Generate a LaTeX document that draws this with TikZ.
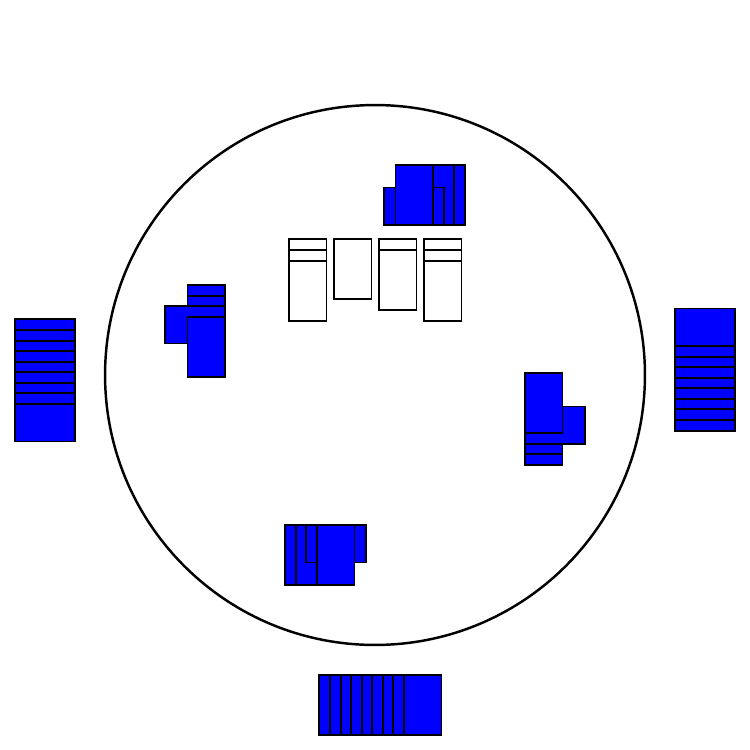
\documentclass[tikz,border=0pt]{standalone}
\usepackage{tikz}
\newcommand{\drawtable}{\node[draw,circle,minimum size=10.8cm,inner sep=0,line width=1.4pt]}
\newcommand{\drawcard}{\node[draw,rectangle,fill=blue,minimum width=0.75cm,minimum height=1.2cm,inner sep=0]}
\newcommand{\drawflat}{\node[draw,rectangle,fill=blue,minimum width=1.2cm,minimum height=0.75cm,inner sep=0]}
\newcommand{\drawblank}{\node[draw,rectangle,fill=white,minimum width=0.75cm,minimum height=1.2cm,inner sep=0]}

\begin{document}
\begin{tikzpicture}[x=0.02cm,y=-0.02cm,line width=0.8pt]
\useasboundingbox (0,0) rectangle (750,750);
%table
\drawtable (table) at (375,375) {};

%hand south
\drawcard (handSouth1) at (337.75,705) {};
\drawcard (handSouth2) at (348.75,705) {};
\drawcard (handSouth3) at (359.75,705) {};
\drawcard (handSouth4) at (369.75,705) {};
\drawcard (handSouth5) at (380.75,705) {};
\drawcard (handSouth6) at (390.75,705) {};
\drawcard (handSouth7) at (401.75,705) {};
\drawcard (handSouth8) at (411.75,705) {};
\drawcard (handSouth9) at (422.75,705) {};

%hand west
\drawflat (handWest1) at (45,337.75) {};
\drawflat (handWest2) at (45,348.75) {};
\drawflat (handWest3) at (45,359.75) {};
\drawflat (handWest4) at (45,369.75) {};
\drawflat (handWest5) at (45,380.75) {};
\drawflat (handWest6) at (45,390.75) {};
\drawflat (handWest7) at (45,401.75) {};
\drawflat (handWest8) at (45,411.75) {};
\drawflat (handWest9) at (45,422.75) {};

%hand east
\drawflat (handEast1) at (705,412.25) {};
\drawflat (handEast2) at (705,401.25) {};
\drawflat (handEast3) at (705,390.25) {};
\drawflat (handEast4) at (705,380.25) {};
\drawflat (handEast5) at (705,369.25) {};
\drawflat (handEast6) at (705,359.25) {};
\drawflat (handEast7) at (705,348.25) {};
\drawflat (handEast8) at (705,338.25) {};
\drawflat (handEast9) at (705,327.25) {};

%tricks
\drawcard (trickNorth1) at (446.25,195) {};
\drawcard (trickNorth2) at (435.25,195) {};
\drawflat (trickNorth3) at (414,206.25) {};
\drawcard (trickNorth4) at (414.25,195) {};

\drawcard (trickEast1) at (543.75,435) {};
\drawcard (trickEast2) at (543.75,424) {};
\drawflat (trickEast3) at (555,425.25) {};
\drawcard (trickEast4) at (543.75,403) {};

\drawcard (trickSouth1) at (303.75,555) {};
\drawcard (trickSouth2) at (314.75,555) {};
\drawflat (trickSouth3) at (336,543.75) {};
\drawcard (trickSouth4) at (335.75,555) {};

\drawcard (trickWest1) at (206.25,315) {};
\drawcard (trickWest2) at (206.25,326) {};
\drawflat (trickWest3) at (195,324.75) {};
\drawcard (trickWest4) at (206.25,347) {};

%stock in the middle
\drawblank (stockOne1) at (307.75,269) {};
\drawblank (stockOne2) at (307.75,280) {};
\drawblank (stockOne3) at (307.75,291) {};
\drawblank (stockTwo1) at (352.75,269) {};
\drawblank (stockThree1) at (397.75,269) {};
\drawblank (stockThree2) at (397.75,280) {};
\drawblank (stockFour1) at (442.75,269) {};
\drawblank (stockFour2) at (442.75,280) {};
\drawblank (stockFour3) at (442.75,291) {};

\end{tikzpicture}
\end{document}
